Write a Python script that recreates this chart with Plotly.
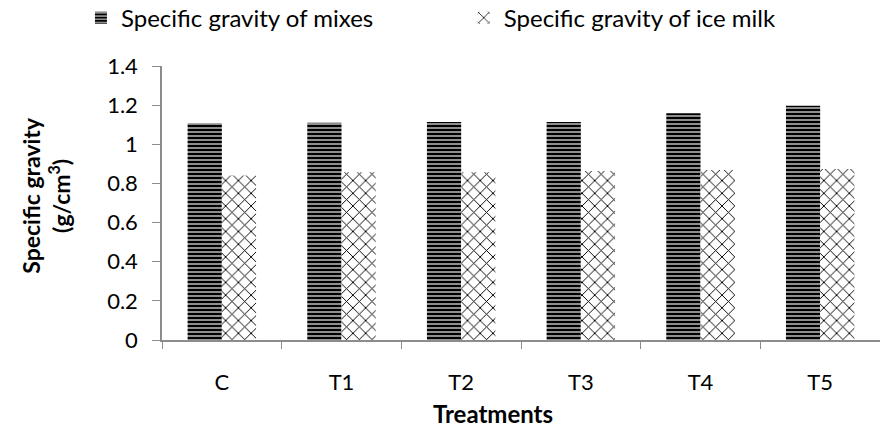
import plotly.graph_objects as go

categories = ["C", "T1", "T2", "T3", "T4", "T5"]
mixes = [1.107, 1.110, 1.114, 1.114, 1.158, 1.197]
ice_milk = [0.840, 0.857, 0.857, 0.864, 0.869, 0.874]
series_names = ["Specific gravity of mixes", "Specific gravity of ice milk"]
y_ticks = [0, 0.2, 0.4, 0.6, 0.8, 1.0, 1.2, 1.4]
y_tick_text = ["0", "0.2", "0.4", "0.6", "0.8", "1", "1.2", "1.4"]

FONT = "Lato"

fig = go.Figure()
fig.add_trace(go.Bar(
    x=categories, y=mixes, name=series_names[0], legend="legend",
    marker=dict(color="black", line=dict(width=0),
                pattern=dict(shape="-", fgcolor="white", bgcolor="black",
                             size=4, solidity=0.28, fillmode="replace")),
))
fig.add_trace(go.Bar(
    x=categories, y=ice_milk, name=series_names[1], legend="legend2",
    marker=dict(color="white", line=dict(width=0),
                pattern=dict(shape="x", fgcolor="black", bgcolor="white",
                             size=9, solidity=0.2, fillmode="replace")),
))

legend_common = dict(orientation="h", xref="container", yref="container",
                     y=0.958, xanchor="left", yanchor="middle",
                     font=dict(family=FONT, size=24, color="black"),
                     itemwidth=30, bgcolor="rgba(0,0,0,0)")

fig.update_layout(
    width=880, height=430,
    margin=dict(l=162, r=0, t=66, b=90),
    paper_bgcolor="white", plot_bgcolor="white",
    barmode="group", bargap=0.428, bargroupgap=0,
    font=dict(family=FONT, size=22, color="black"),
    showlegend=True,
    legend=dict(x=0.092, **legend_common),
    legend2=dict(x=0.527, **legend_common),
    xaxis=dict(showline=True, linecolor="#8c8c8c", linewidth=1.5,
               ticks="outside", tickson="boundaries", ticklen=7, tickcolor="#8c8c8c",
               tickfont=dict(family=FONT, size=22, color="black"),
               ticklabelstandoff=22, showgrid=False, zeroline=False),
    yaxis=dict(range=[0, 1.4], tickvals=y_ticks, ticktext=y_tick_text,
               showline=True, linecolor="#8c8c8c", linewidth=1.5,
               ticks="outside", ticklen=8, tickcolor="#8c8c8c",
               tickfont=dict(family=FONT, size=22, color="black"),
               ticklabelstandoff=10, showgrid=False, zeroline=False),
    annotations=[
        dict(text="<b>Specific gravity<br>(g/cm<sup>3</sup>)</b>", textangle=-90,
             xref="paper", yref="paper", x=-0.1616, y=0.53,
             xanchor="center", yanchor="middle", showarrow=False,
             font=dict(family=FONT, size=23, color="black")),
        dict(text="<b>Treatments</b>", xref="paper", yref="paper",
             x=0.461, y=-0.27, xanchor="center", yanchor="middle", showarrow=False,
             font=dict(family=FONT, size=24, color="black")),
    ],
)

fig.write_html("out.html")
